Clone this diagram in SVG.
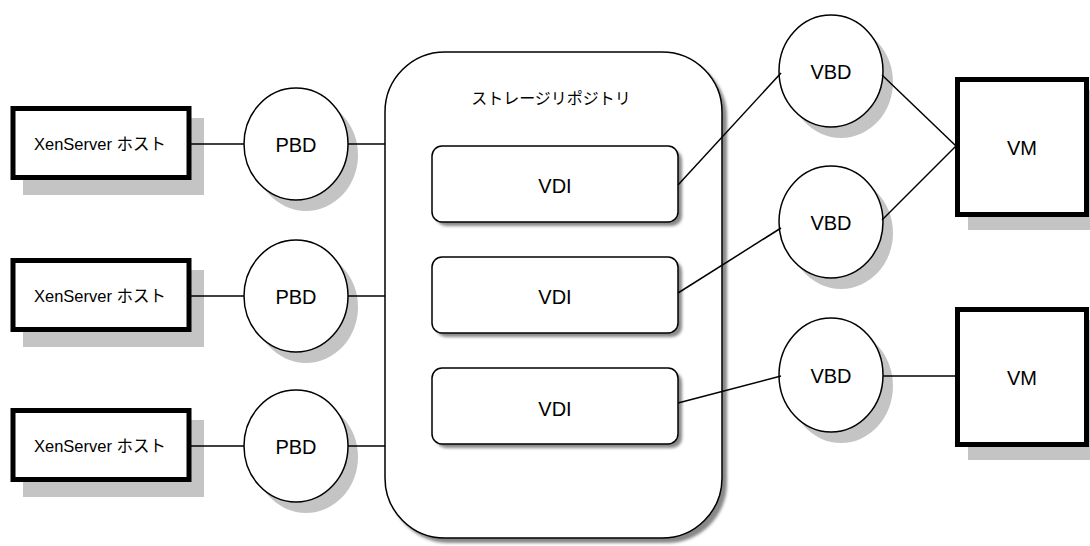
<svg xmlns="http://www.w3.org/2000/svg" width="1090" height="546" viewBox="0 0 1090 546">
<defs>
<filter id="blur" x="-10%" y="-10%" width="130%" height="130%"><feGaussianBlur stdDeviation="1.5"/></filter>
</defs>
<style>
.txt{font-family:"Liberation Sans","Noto Sans CJK JP",sans-serif;fill:#000;text-anchor:middle;dominant-baseline:central}
.host{fill:#fff;stroke:#000;stroke-width:5}
.hshadow{fill:#c4c4c4}
.circ{fill:#fff;stroke:#000;stroke-width:1.5}
.cshadow{fill:#c4c4c4}
.rr{fill:#fff;stroke:#000;stroke-width:1.5}
.rshadow{fill:#888;filter:url(#blur)}
.conn{stroke:#000;stroke-width:1.5;fill:none}
</style>
<rect width="1090" height="546" fill="#fff"/>

<g id="host1">
<rect class="hshadow" x="23" y="118" width="181" height="77"/>
<rect class="host" x="13" y="108.5" width="176" height="69"/>
<text class="txt" x="100" y="144" font-size="16.5">XenServer ホスト</text>
</g>
<g id="host2">
<rect class="hshadow" x="23" y="270" width="181" height="77"/>
<rect class="host" x="13" y="260.5" width="176" height="69"/>
<text class="txt" x="100" y="296" font-size="16.5">XenServer ホスト</text>
</g>
<g id="host3">
<rect class="hshadow" x="23" y="420" width="181" height="77"/>
<rect class="host" x="13" y="410.5" width="176" height="69"/>
<text class="txt" x="100" y="446" font-size="16.5">XenServer ホスト</text>
</g>

<g id="pbd1">
<ellipse class="cshadow" cx="306" cy="155" rx="52" ry="56"/>
<ellipse class="circ" cx="296" cy="144" rx="52" ry="56"/>
<text class="txt" x="296" y="145" font-size="20">PBD</text>
</g>
<g id="pbd2">
<ellipse class="cshadow" cx="306" cy="307" rx="52" ry="56"/>
<ellipse class="circ" cx="296" cy="296" rx="52" ry="56"/>
<text class="txt" x="296" y="297" font-size="20">PBD</text>
</g>
<g id="pbd3">
<ellipse class="cshadow" cx="306" cy="457" rx="52" ry="56"/>
<ellipse class="circ" cx="296" cy="446" rx="52" ry="56"/>
<text class="txt" x="296" y="447" font-size="20">PBD</text>
</g>

<g id="sr">
<rect class="rshadow" x="389" y="57" width="338" height="486" rx="60" ry="60"/>
<rect class="rr" x="385" y="52" width="337" height="486" rx="60" ry="60"/>
<text class="txt" x="551" y="98" font-size="16">ストレージリポジトリ</text>
</g>

<g id="vdi1">
<rect class="rshadow" x="436" y="150" width="246" height="76" rx="10" ry="10"/>
<rect class="rr" x="432" y="146" width="246" height="76" rx="10" ry="10"/>
<text class="txt" x="555" y="186" font-size="20">VDI</text>
</g>
<g id="vdi2">
<rect class="rshadow" x="436" y="261" width="246" height="76" rx="10" ry="10"/>
<rect class="rr" x="432" y="257" width="246" height="76" rx="10" ry="10"/>
<text class="txt" x="555" y="297" font-size="20">VDI</text>
</g>
<g id="vdi3">
<rect class="rshadow" x="436" y="372" width="246" height="76" rx="10" ry="10"/>
<rect class="rr" x="432" y="368" width="246" height="76" rx="10" ry="10"/>
<text class="txt" x="555" y="409" font-size="20">VDI</text>
</g>

<g id="vbd1">
<ellipse class="cshadow" cx="841" cy="82" rx="52" ry="56"/>
<ellipse class="circ" cx="831" cy="71" rx="52" ry="56"/>
<text class="txt" x="831" y="72" font-size="20">VBD</text>
</g>
<g id="vbd2">
<ellipse class="cshadow" cx="841" cy="233" rx="52" ry="56"/>
<ellipse class="circ" cx="831" cy="222" rx="52" ry="56"/>
<text class="txt" x="831" y="223" font-size="20">VBD</text>
</g>
<g id="vbd3">
<ellipse class="cshadow" cx="841" cy="386" rx="52" ry="57"/>
<ellipse class="circ" cx="831" cy="375" rx="52" ry="57"/>
<text class="txt" x="831" y="376" font-size="20">VBD</text>
</g>

<g id="vm1">
<rect class="hshadow" x="968" y="90" width="134" height="140"/>
<rect class="host" x="957.5" y="79.5" width="129" height="135"/>
<text class="txt" x="1022" y="148" font-size="20">VM</text>
</g>
<g id="vm2">
<rect class="hshadow" x="968" y="320" width="134" height="140"/>
<rect class="host" x="957.5" y="309.5" width="129" height="135"/>
<text class="txt" x="1022" y="378" font-size="20">VM</text>
</g>

<g id="connectors">
<line class="conn" x1="191" y1="144" x2="244" y2="144"/>
<line class="conn" x1="191" y1="296" x2="244" y2="296"/>
<line class="conn" x1="191" y1="446" x2="244" y2="446"/>
<line class="conn" x1="348" y1="144" x2="385" y2="144"/>
<line class="conn" x1="348" y1="296" x2="385" y2="296"/>
<line class="conn" x1="348" y1="446" x2="385" y2="446"/>
<line class="conn" x1="678" y1="185" x2="781" y2="73"/>
<line class="conn" x1="678" y1="293" x2="781" y2="228"/>
<line class="conn" x1="678" y1="403" x2="781" y2="376"/>
<line class="conn" x1="882" y1="75" x2="956" y2="146"/>
<line class="conn" x1="882" y1="220" x2="956" y2="146"/>
<line class="conn" x1="883" y1="376" x2="956" y2="376"/>
</g>
</svg>
